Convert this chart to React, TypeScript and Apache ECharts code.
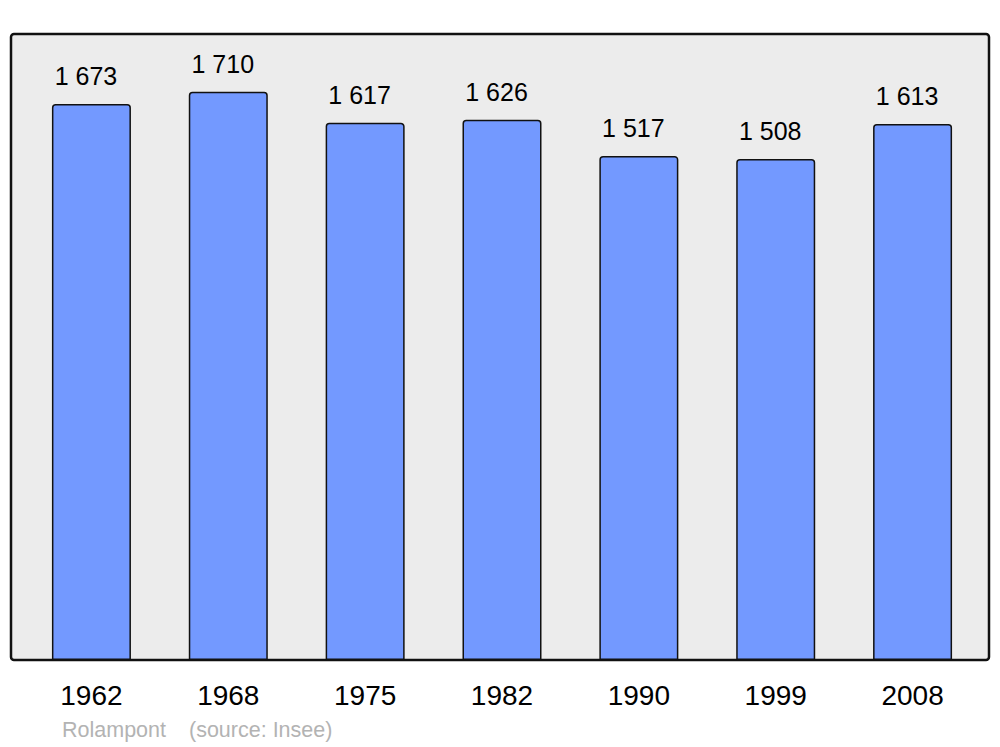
import React, { useEffect, useRef } from "react";
import * as echarts from "echarts";

const years = ["1962", "1968", "1975", "1982", "1990", "1999", "2008"];
const population = [1673, 1710, 1617, 1626, 1517, 1508, 1613];
const commune = "Rolampont";
const sourceText = "(source: Insee)";

const fmt = (v: number) => {
  const s = String(v);
  return s.length > 3 ? s.slice(0, s.length - 3) + " " + s.slice(-3) : s;
};

export default function App() {
  const ref = useRef<HTMLDivElement>(null);
  useEffect(() => {
    if (!ref.current) return;
    const chart = echarts.init(ref.current, undefined, { renderer: "svg" });
    chart.setOption({
      animation: false,
      textStyle: { fontFamily: "Liberation Sans, Arial, sans-serif" },
      grid: { left: 23, right: 19, top: 34, bottom: 87, containLabel: false },
      xAxis: {
        type: "category",
        data: years,
        axisLine: { show: false },
        axisTick: { show: false },
        axisLabel: { color: "#000", fontSize: 28, margin: 21, fontFamily: "Liberation Sans, Arial, sans-serif" },
      },
      yAxis: {
        type: "value",
        min: 0,
        max: 1884,
        show: false,
        splitLine: { show: false },
      },
      graphic: [
        {
          type: "rect",
          shape: { x: 11, y: 34, width: 978, height: 626, r: 3 },
          style: { fill: "#ececec", stroke: "#111", lineWidth: 2.5 },
          z: -10,
        },
        {
          type: "text",
          x: 62,
          y: 730,
          style: { text: commune, fill: "#b3b3b3", fontSize: 21.5, fontFamily: "Liberation Sans, Arial, sans-serif", verticalAlign: "middle" },
        },
        {
          type: "text",
          x: 189,
          y: 730,
          style: { text: sourceText, fill: "#b3b3b3", fontSize: 21.5, fontFamily: "Liberation Sans, Arial, sans-serif", verticalAlign: "middle" },
        },
      ],
      series: [
        {
          type: "bar",
          data: population,
          barWidth: 79,
          itemStyle: { color: "#7399ff", borderColor: "#111", borderWidth: 1.5, borderRadius: [3, 3, 0, 0] },
          label: {
            show: true,
            position: "top",
            distance: 15.5,
            offset: [-5.5, 0],
            color: "#000",
            fontSize: 25,
            fontFamily: "Liberation Sans, Arial, sans-serif",
            formatter: (p: any) => fmt(p.value),
          },
        },
      ],
    });
    return () => chart.dispose();
  }, []);
  return <div ref={ref} style={{ position: "fixed", left: 0, top: 0, width: 1000, height: 747, background: "#fff" }} />;
}
